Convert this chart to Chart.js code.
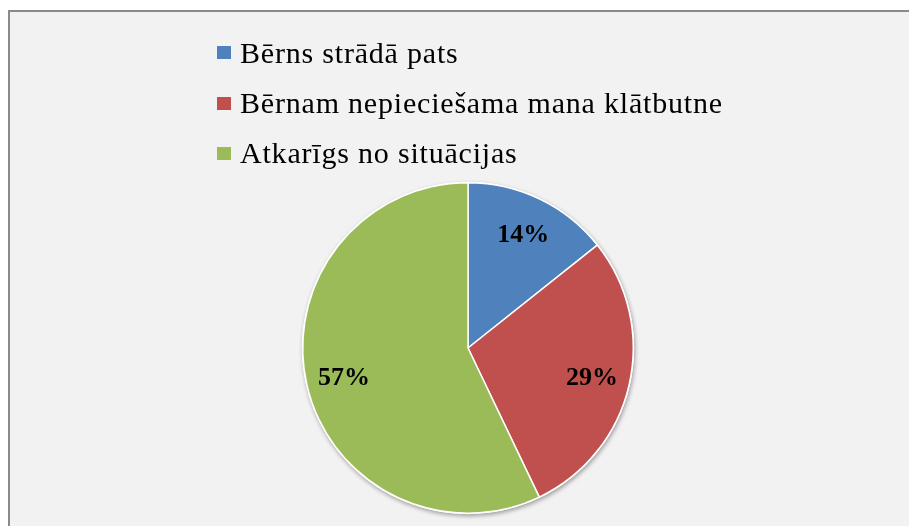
<!DOCTYPE html>
<html>
<head>
<meta charset="utf-8">
<script src="https://cdn.jsdelivr.net/npm/chart.js@4.4.1/dist/chart.umd.min.js"></script>
<style>
  html, body { margin: 0; padding: 0; background: #ffffff; width: 909px; height: 526px; overflow: hidden; }
  #frame { position: absolute; left: 8px; top: 10px; width: 940px; height: 560px; background: #f2f2f2; border: 2px solid #8a8a8a; box-sizing: border-box; }
  #wrap { position: absolute; left: 0; top: 0; width: 909px; height: 526px; }
</style>
</head>
<body>
<div id="frame"></div>
<div id="wrap"><canvas id="c"></canvas></div>
<script>
const categories = ["Bērns strādā pats", "Bērnam nepieciešama mana klātbutne", "Atkarīgs no situācijas"];
const values = [14.3, 28.6, 57.1];
const valueLabels = ["14%", "29%", "57%"];
const colors = ["#4f81bd", "#c0504d", "#9bbb59"];

const shadowPlugin = {
  id: 'pieShadow',
  beforeDatasetsDraw(chart) {
    const arc = chart.getDatasetMeta(0).data[0];
    if (!arc) return;
    const ctx = chart.ctx;
    ctx.save();
    ctx.shadowColor = 'rgba(0,0,0,0.35)';
    ctx.shadowBlur = 4;
    ctx.shadowOffsetX = 1;
    ctx.shadowOffsetY = 2;
    ctx.fillStyle = '#ffffff';
    ctx.beginPath();
    ctx.arc(arc.x, arc.y, arc.outerRadius + 1, 0, Math.PI * 2);
    ctx.fill();
    ctx.restore();
  }
};

const labelPlugin = {
  id: 'sliceLabels',
  afterDatasetsDraw(chart) {
    const ctx = chart.ctx;
    const meta = chart.getDatasetMeta(0);
    ctx.save();
    ctx.font = 'bold 26px "Liberation Serif", "Times New Roman", serif';
    ctx.fillStyle = '#000000';
    ctx.textAlign = 'center';
    ctx.textBaseline = 'middle';
    meta.data.forEach((arc, i) => {
      const p = arc.getProps(['x', 'y', 'startAngle', 'endAngle', 'outerRadius'], true);
      const mid = (p.startAngle + p.endAngle) / 2;
      const r = p.outerRadius * 0.77;
      ctx.fillText(valueLabels[i], p.x + Math.cos(mid) * r, p.y + Math.sin(mid) * r + 2);
    });
    ctx.restore();
  }
};

const legendPlugin = {
  id: 'vertLegend',
  afterDraw(chart) {
    const ctx = chart.ctx;
    const ds = chart.data.datasets[0];
    ctx.save();
    ctx.font = '30px "Liberation Serif", "Times New Roman", serif';
    if ('letterSpacing' in ctx) ctx.letterSpacing = '0.8px';
    ctx.textAlign = 'left';
    ctx.textBaseline = 'alphabetic';
    chart.data.labels.forEach((lab, i) => {
      const base = 62.7 + i * 50.3;
      ctx.fillStyle = ds.backgroundColor[i];
      ctx.fillRect(217, Math.round(base - 16.5), 14, 13);
      ctx.fillStyle = '#000000';
      ctx.fillText(lab, 240, base);
    });
    ctx.restore();
  }
};

new Chart(document.getElementById('c'), {
  type: 'pie',
  data: {
    labels: categories,
    datasets: [{
      data: values,
      backgroundColor: colors,
      borderColor: '#ffffff',
      borderWidth: 1.5
    }]
  },
  options: {
    responsive: true,
    maintainAspectRatio: false,
    animation: false,
    layout: { padding: { left: 302, right: 275, top: 182, bottom: 12 } },
    plugins: {
      legend: { display: false },
      tooltip: { enabled: false }
    }
  },
  plugins: [shadowPlugin, labelPlugin, legendPlugin]
});
</script>
</body>
</html>
